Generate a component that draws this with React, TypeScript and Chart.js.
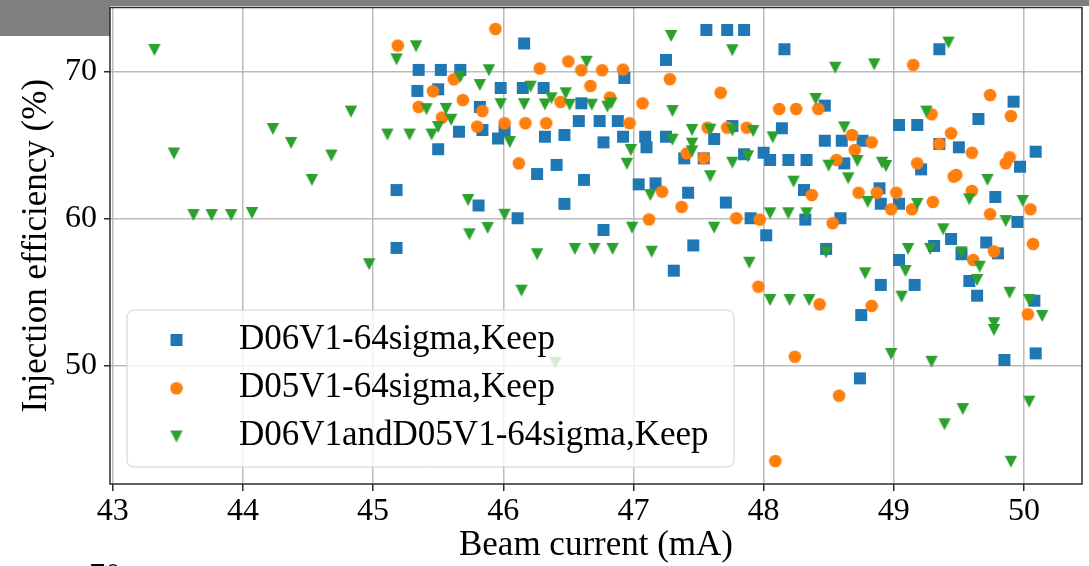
import React, { useEffect, useRef } from 'react';
import { Chart, registerables } from 'chart.js';
Chart.register(...registerables);

const FONT = "'Liberation Serif', 'Times New Roman', serif";

const xTicks = [43, 44, 45, 46, 47, 48, 49, 50];
const yTicks = [50, 60, 70];
const xTitle = 'Beam current (mA)';
const yTitle = 'Injection efficiency (%)';
const seriesLabels = ['D06V1-64sigma,Keep', 'D05V1-64sigma,Keep', 'D06V1andD05V1-64sigma,Keep'];
const seriesColors = ['#1f77b4', '#ff7f0e', '#2ca02c'];

const d06Current = [45.18, 45.18, 45.34, 45.35, 45.52, 45.67, 45.50, 45.50, 45.66, 45.82, 45.84, 45.96, 46.01, 45.98, 46.15, 46.31, 46.16, 45.81, 46.11, 46.26, 46.32, 46.41, 46.47, 46.47, 46.58, 46.60, 46.62, 46.74, 46.77, 46.77, 46.88, 46.92, 46.93, 47.04, 47.09, 47.10, 47.17, 47.25, 47.25, 47.31, 47.39, 47.42, 47.46, 47.54, 47.56, 47.62, 47.72, 47.85, 47.76, 47.85, 48.00, 48.05, 48.19, 48.33, 47.71, 47.90, 48.02, 48.14, 48.16, 48.31, 48.32, 48.47, 48.47, 48.48, 48.59, 48.60, 48.62, 48.74, 48.75, 48.76, 48.89, 48.90, 48.90, 49.04, 49.04, 49.04, 49.16, 49.18, 49.21, 49.31, 49.35, 49.35, 49.44, 49.50, 49.52, 49.58, 49.64, 49.65, 49.71, 49.78, 49.80, 49.85, 49.92, 49.95, 49.97, 50.08, 50.09, 50.09];
const d06Efficiency = [61.96, 58.02, 68.71, 70.14, 70.14, 70.14, 68.82, 64.74, 65.93, 67.62, 66.05, 65.47, 65.98, 68.91, 68.91, 68.91, 71.94, 60.91, 60.04, 63.05, 65.59, 63.67, 65.71, 61.02, 66.66, 67.87, 62.65, 66.66, 65.21, 59.24, 66.66, 65.59, 69.59, 62.35, 65.59, 64.87, 62.42, 70.82, 65.59, 56.47, 64.12, 61.78, 58.19, 64.12, 72.86, 65.44, 72.86, 72.86, 66.32, 64.40, 64.50, 64.01, 64.01, 64.01, 61.11, 60.04, 58.88, 66.17, 71.55, 61.96, 59.95, 67.71, 65.32, 57.95, 60.04, 65.32, 63.78, 49.14, 53.45, 65.32, 62.08, 61.03, 55.50, 66.39, 61.03, 57.20, 55.50, 66.39, 63.37, 58.15, 71.55, 65.10, 58.63, 64.87, 57.59, 55.77, 54.77, 66.80, 58.39, 61.49, 57.65, 50.39, 67.98, 59.79, 63.55, 54.43, 64.57, 50.84];

const d05Current = [45.19, 45.35, 45.46, 45.53, 45.62, 45.69, 45.80, 45.84, 45.94, 46.01, 46.12, 46.17, 46.28, 46.33, 46.44, 46.50, 46.60, 46.67, 46.76, 46.82, 46.92, 46.97, 47.07, 47.12, 47.22, 47.28, 47.37, 47.41, 47.54, 47.57, 47.67, 47.72, 47.87, 47.79, 47.97, 47.96, 48.09, 48.12, 48.24, 48.25, 48.37, 48.42, 48.43, 48.53, 48.56, 48.58, 48.68, 48.70, 48.73, 48.83, 48.83, 48.87, 48.98, 49.02, 49.14, 49.15, 49.18, 49.29, 49.30, 49.35, 49.44, 49.46, 49.48, 49.60, 49.60, 49.61, 49.74, 49.74, 49.77, 49.86, 49.89, 49.90, 50.03, 50.05, 50.07];
const d05Efficiency = [71.80, 67.62, 68.69, 66.90, 69.50, 68.09, 66.28, 67.34, 72.93, 66.51, 63.78, 66.51, 70.24, 66.51, 67.96, 70.72, 70.12, 69.05, 70.12, 68.26, 70.16, 66.51, 67.87, 59.96, 61.85, 69.51, 60.81, 64.46, 64.14, 66.21, 68.59, 66.21, 66.21, 60.04, 59.95, 55.38, 43.51, 67.48, 50.61, 67.48, 61.62, 67.48, 54.18, 59.70, 64.01, 47.96, 65.71, 64.69, 61.78, 65.21, 54.07, 61.78, 60.65, 61.78, 60.65, 70.48, 63.78, 67.12, 61.15, 65.10, 65.83, 62.87, 62.99, 64.50, 61.90, 57.20, 68.43, 60.32, 57.78, 63.78, 64.19, 67.00, 53.50, 60.65, 58.29];

const bothCurrent = [43.32, 43.47, 43.62, 43.76, 43.91, 44.07, 44.23, 44.37, 44.53, 44.68, 44.83, 44.97, 45.11, 45.18, 45.28, 45.33, 45.41, 45.45, 45.50, 45.56, 45.60, 45.67, 45.73, 45.74, 45.82, 45.88, 45.89, 45.98, 46.01, 46.05, 46.14, 46.16, 46.21, 46.26, 46.32, 46.37, 46.40, 46.48, 46.51, 46.55, 46.64, 46.68, 46.70, 46.80, 46.83, 46.84, 46.95, 46.98, 46.99, 47.13, 47.14, 47.29, 47.30, 47.30, 47.45, 47.45, 47.45, 47.59, 47.59, 47.62, 47.76, 47.76, 47.76, 47.88, 47.89, 47.92, 48.05, 48.07, 48.05, 48.19, 48.20, 48.23, 48.33, 48.35, 48.40, 48.48, 48.50, 48.55, 48.62, 48.65, 48.72, 48.78, 48.80, 48.85, 48.91, 48.94, 48.98, 49.06, 49.09, 49.11, 49.18, 49.25, 49.28, 49.29, 49.38, 49.39, 49.42, 49.52, 49.53, 49.58, 49.64, 49.66, 49.72, 49.77, 49.77, 49.86, 49.89, 49.90, 49.99, 50.04, 50.04, 50.14];
const bothEfficiency = [71.50, 64.45, 60.26, 60.26, 60.26, 60.40, 66.12, 65.17, 62.65, 64.31, 67.30, 56.91, 65.74, 70.86, 65.74, 71.75, 67.47, 65.74, 66.25, 67.49, 66.75, 69.65, 61.28, 58.95, 69.11, 59.38, 70.12, 67.81, 60.28, 65.23, 55.11, 67.81, 69.00, 57.59, 67.79, 68.21, 50.20, 68.55, 67.77, 57.95, 70.70, 67.77, 57.95, 67.64, 67.87, 57.95, 63.75, 64.69, 59.40, 61.62, 57.76, 72.45, 67.34, 65.39, 66.05, 65.12, 64.60, 66.07, 62.90, 59.40, 66.02, 63.82, 71.48, 64.26, 57.01, 65.98, 60.38, 65.55, 54.47, 60.38, 54.47, 62.53, 60.38, 54.47, 68.16, 57.72, 63.62, 70.29, 66.23, 62.76, 63.94, 56.29, 61.15, 70.52, 63.82, 63.60, 50.80, 54.70, 56.45, 57.95, 61.01, 67.30, 57.95, 50.27, 59.29, 46.01, 72.00, 57.72, 47.05, 61.33, 55.84, 56.74, 62.65, 52.89, 52.43, 59.85, 54.97, 43.46, 61.22, 54.47, 47.55, 53.38];

function zip(xs: number[], ys: number[]) {
  const n = Math.min(xs.length, ys.length);
  const out: { x: number; y: number }[] = [];
  for (let i = 0; i < n; i++) out.push({ x: xs[i], y: ys[i] });
  return out;
}

function makeMarker(kind: string, color: string): HTMLCanvasElement {
  const s = 14;
  const c = document.createElement('canvas');
  c.width = s;
  c.height = s;
  const g = c.getContext('2d')!;
  g.fillStyle = color;
  const m = s / 2;
  g.beginPath();
  if (kind === 'square') {
    g.rect(m - 6, m - 6, 12, 12);
  } else if (kind === 'circle') {
    g.arc(m, m, 6.3, 0, Math.PI * 2);
  } else {
    g.moveTo(m - 6.2, m - 6);
    g.lineTo(m + 6.2, m - 6);
    g.lineTo(m, m + 6);
    g.closePath();
  }
  g.fill();
  return c;
}

export default function App() {
  const ref = useRef<HTMLCanvasElement | null>(null);
  useEffect(() => {
    const canvas = ref.current;
    if (!canvas) return;
    const markers = [
      makeMarker('square', seriesColors[0]),
      makeMarker('circle', seriesColors[1]),
      makeMarker('triangle', seriesColors[2]),
    ];

    const decor = {
      id: 'decor',
      beforeDraw(chart: any) {
        const ctx = chart.ctx;
        ctx.save();
        ctx.fillStyle = '#ffffff';
        ctx.fillRect(0, 0, chart.width, chart.height);
        ctx.fillStyle = '#7f7f7f';
        ctx.fillRect(0, 0, chart.width, 6);
        ctx.fillRect(0, 0, 110, 36);
        ctx.restore();
      },
      afterDatasetsDraw(chart: any) {
        const ctx = chart.ctx;
        const a = chart.chartArea;
        ctx.save();
        ctx.strokeStyle = '#2b2b2b';
        ctx.lineWidth = 1.5;
        ctx.strokeRect(a.left, a.top, a.right - a.left, a.bottom - a.top);
        ctx.restore();
      },
      afterDraw(chart: any) {
        const ctx = chart.ctx;
        ctx.save();
        const bx = 127, by = 310, bw = 607, bh = 157, r = 8;
        ctx.beginPath();
        ctx.moveTo(bx + r, by);
        ctx.lineTo(bx + bw - r, by);
        ctx.quadraticCurveTo(bx + bw, by, bx + bw, by + r);
        ctx.lineTo(bx + bw, by + bh - r);
        ctx.quadraticCurveTo(bx + bw, by + bh, bx + bw - r, by + bh);
        ctx.lineTo(bx + r, by + bh);
        ctx.quadraticCurveTo(bx, by + bh, bx, by + bh - r);
        ctx.lineTo(bx, by + r);
        ctx.quadraticCurveTo(bx, by, bx + r, by);
        ctx.closePath();
        ctx.fillStyle = 'rgba(255,255,255,0.8)';
        ctx.fill();
        ctx.strokeStyle = 'rgba(204,204,204,0.9)';
        ctx.lineWidth = 1;
        ctx.stroke();
        const rows = [340, 388.3, 436.5];
        ctx.font = `35px ${FONT}`;
        ctx.fillStyle = '#000';
        ctx.textBaseline = 'alphabetic';
        ctx.textAlign = 'left';
        seriesLabels.forEach((lab, i) => {
          const m = markers[i];
          ctx.drawImage(m, 176.5 - m.width / 2, rows[i] - m.height / 2);
          ctx.fillText(lab, 239, rows[i] + 8.5);
        });
        ctx.font = `32px ${FONT}`;
        ctx.fillText('70', 89, 585);
        ctx.restore();
      },
    };

    const chart = new Chart(canvas, {
      type: 'scatter',
      data: {
        datasets: [
          { label: seriesLabels[0], data: zip(d06Current, d06Efficiency), pointStyle: markers[0] as any, radius: 6, backgroundColor: seriesColors[0], borderColor: seriesColors[0], order: 3 },
          { label: seriesLabels[1], data: zip(d05Current, d05Efficiency), pointStyle: markers[1] as any, radius: 6, backgroundColor: seriesColors[1], borderColor: seriesColors[1], order: 2 },
          { label: seriesLabels[2], data: zip(bothCurrent, bothEfficiency), pointStyle: markers[2] as any, radius: 6, backgroundColor: seriesColors[2], borderColor: seriesColors[2], order: 1 },
        ],
      },
      options: {
        animation: false,
        responsive: false,
        devicePixelRatio: 1,
        events: [],
        layout: { padding: { top: 7.5, right: 3, left: 0, bottom: 0 } },
        plugins: { legend: { display: false }, tooltip: { enabled: false } },
        scales: {
          x: {
            type: 'linear',
            min: 42.979,
            max: 50.446,
            afterBuildTicks: (s: any) => { s.ticks = xTicks.map((v) => ({ value: v })); },
            afterFit: (s: any) => { s.height = 82; s.paddingLeft = 0; s.paddingRight = 0; },
            ticks: { font: { family: FONT, size: 32 }, color: '#000', padding: 1, maxRotation: 0, autoSkip: false, callback: (v: any) => String(v) },
            grid: { color: 'rgba(180,180,180,0.9)', lineWidth: 1.5, tickColor: '#2b2b2b', tickLength: 7, tickWidth: 1.5 },
            border: { display: false },
            title: { display: true, text: xTitle, color: '#000', font: { family: FONT, size: 35, lineHeight: 1.14 }, padding: { top: 0, bottom: 0 } },
          },
          y: {
            type: 'linear',
            min: 41.944,
            max: 74.39,
            afterBuildTicks: (s: any) => { s.ticks = yTicks.map((v) => ({ value: v })); },
            afterFit: (s: any) => { s.width = 110; s.paddingTop = 0; s.paddingBottom = 0; },
            ticks: { font: { family: FONT, size: 32 }, color: '#000', padding: 7, autoSkip: false, callback: (v: any) => String(v) },
            grid: { color: 'rgba(180,180,180,0.9)', lineWidth: 1.5, tickColor: '#2b2b2b', tickLength: 6, tickWidth: 1.5 },
            border: { display: false },
            title: { display: true, text: yTitle, color: '#000', font: { family: FONT, size: 35, lineHeight: 1.14 }, padding: { top: 17, bottom: 0 } },
          },
        },
      },
      plugins: [decor],
    } as any);
    return () => chart.destroy();
  }, []);

  return (
    <div style={{ position: 'fixed', left: 0, top: 0, width: 1089, height: 566, background: '#fff' }}>
      <canvas ref={ref} width={1089} height={566} style={{ width: 1089, height: 566, display: 'block' }} />
    </div>
  );
}
